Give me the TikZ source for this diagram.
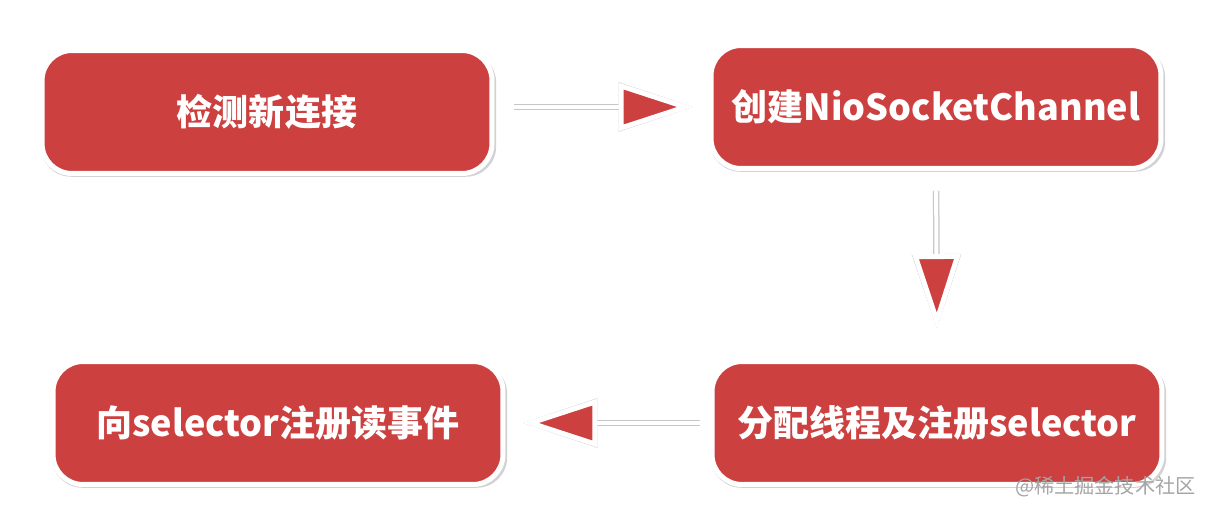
\documentclass[tikz,border=0pt]{standalone}
\usepackage{fontspec}
\setmainfont{Noto Sans CJK SC}
\usetikzlibrary{arrows.meta,positioning,shadows}
\definecolor{boxred}{RGB}{204,64,64}
\definecolor{markgray}{RGB}{165,165,165}

\begin{document}
\begin{tikzpicture}[x=0.02cm,y=-0.02cm,
  stepbox/.style={draw=white,line width=0.1cm,fill=boxred,rounded corners=0.6cm,
    minimum width=9.0cm,minimum height=2.46cm,text=white,
    font=\fontsize{20.5}{24}\selectfont\bfseries,
    drop shadow={shadow xshift=0.03cm,shadow yshift=-0.05cm,shadow scale=1.012,fill=black!35,opacity=.5}},
  conn/.style={draw=white,line width=0.08cm,
    -{Triangle[length=1.5cm,width=0.95cm,fill=boxred,line width=0.1cm]},
    preaction={draw=black!22,line width=0.13cm,
      -{Triangle[length=1.5cm,width=0.95cm,line width=0.16cm]}}}]
  \useasboundingbox (0,0) rectangle (1216,513);
  % steps
  \node[stepbox] (detect) at (267,112) {检测新连接};
  \node[stepbox] (create) at (936,107) {创建NioSocketChannel};
  \node[stepbox] (assign) at (937,423) {分配线程及注册selector};
  \node[stepbox] (register) at (278,423) {向selector注册读事件};
  % flow
  \draw[conn,shorten <=0.4cm,shorten >=0.3cm] (detect.east |- create.west) -- (create.west);
  \draw[conn,shorten <=0.4cm,shorten >=0.6cm] (create.south) -- (assign.north);
  \draw[conn,shorten <=0.2cm,shorten >=0.34cm] (assign.west) -- (register.east |- assign.west);
  % watermark
  \node[anchor=east,text=markgray,font=\fontsize{11.5}{13}\selectfont] (mark) at (1202,487) {@稀土掘金技术社区};
\end{tikzpicture}
\end{document}
